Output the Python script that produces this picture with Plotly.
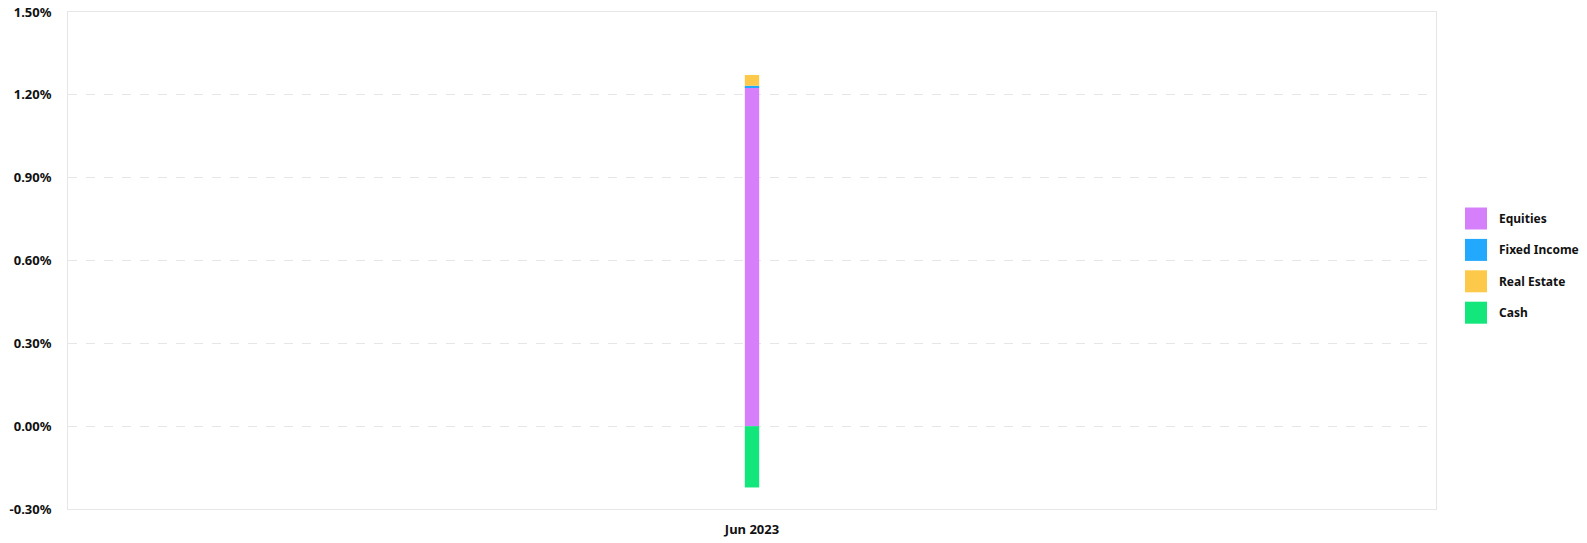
import plotly.graph_objects as go

categories = ["Jun 2023"]
series_names = ["Equities", "Fixed Income", "Real Estate", "Cash"]
equities = [1.228]
fixed_income = [0.005]
real_estate = [0.039]
cash = [-0.222]
colors = ["#D580FA", "#22A9FD", "#FCC94A", "#13E67B"]
y_ticks = [-0.3, 0.0, 0.3, 0.6, 0.9, 1.2, 1.5]
y_tick_labels = ["-0.30%", "0.00%", "0.30%", "0.60%", "0.90%", "1.20%", "1.50%"]

values = [equities, fixed_income, real_estate, cash]
font = dict(family="Noto Sans", size=12, color="#111111")
tick_font = dict(family="Noto Sans", size=13, color="#111111", weight="bold")

L, R, T, B = 68, 1436, 12, 509
PW, PH = R - L, B - T

fig = go.Figure()
for name, vals, col in zip(series_names, values, colors):
    fig.add_trace(go.Bar(x=categories, y=vals, name=name, marker=dict(color=col, line=dict(width=0)),
                         width=0.0105, showlegend=False))

# custom legend (large squares)
for i, (name, col) in enumerate(zip(series_names, colors)):
    yc = 218.5 + i * 31.4
    fig.add_shape(type="rect", xref="paper", yref="paper",
                  x0=(1465 - L) / PW, x1=(1487 - L) / PW,
                  y0=(B - (yc - 11)) / PH, y1=(B - (yc + 11)) / PH,
                  fillcolor=col, line=dict(width=0))
    fig.add_annotation(xref="paper", yref="paper", x=(1497 - L) / PW, y=(B - yc) / PH,
                       text="<b>" + name + "</b>", showarrow=False, xanchor="left", yanchor="middle",
                       font=dict(family="Noto Sans", size=12, color="#111111"))

fig.update_layout(
    barmode="relative",
    width=1587, height=543,
    margin=dict(l=L, r=1587 - R, t=T, b=543 - B, autoexpand=False),
    plot_bgcolor="white", paper_bgcolor="white",
    font=font,
    showlegend=False,
    xaxis=dict(range=[-0.5, 0.5], showgrid=False, showline=True, linecolor="#E6E6E6", mirror=True,
               automargin=False, ticks="", ticklabelstandoff=8, tickfont=tick_font),
    yaxis=dict(range=[-0.3, 1.5], tickvals=y_ticks, ticktext=y_tick_labels,
               showgrid=True, gridcolor="#E6E6E6", griddash="dash", zeroline=False,
               showline=True, linecolor="#E6E6E6", mirror=True, ticks="", ticklen=0,
               automargin=False, ticklabelstandoff=13, tickfont=tick_font),
)
fig.write_html("out.html", config={"displayModeBar": False},
               post_script="document.body.style.margin='0';document.body.style.overflow='hidden';")
